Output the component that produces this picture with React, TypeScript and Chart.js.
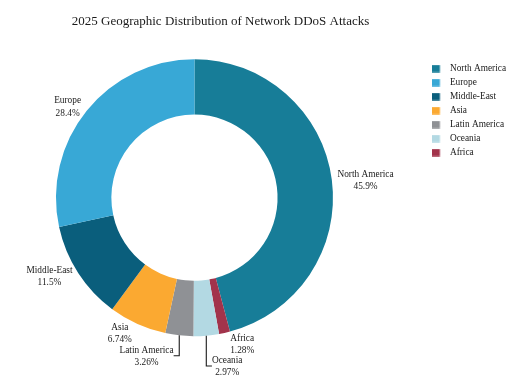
import React, { useEffect, useRef } from 'react';
import { Chart, registerables } from 'chart.js';

Chart.register(...registerables);

// ---- data ----
const categories = ['North America', 'Africa', 'Oceania', 'Latin America', 'Asia', 'Middle-East', 'Europe'];
const values = [45.9, 1.28, 2.97, 3.26, 6.74, 11.5, 28.4];
const colors = ['#177d98', '#a2334b', '#b3d9e3', '#8f9195', '#fba931', '#0a5e7c', '#38a8d6'];
const titleText = '2025 Geographic Distribution of Network DDoS Attacks';

const FONT = '"Liberation Serif", "Times New Roman", serif';
const TEXT = '#1a1a1a';
const LABEL_SIZE = 9.33;
const TITLE_SIZE = 13;
const SHIFT = 39; // canvas is shifted left inside the clipped frame
const CANVAS_W = 548;
const CANVAS_H = 379;

function pctText(v: number, total: number) {
  return Number(((v / total) * 100).toPrecision(3)).toString() + '%';
}

function makeSwatch(color: string) {
  const c = document.createElement('canvas');
  c.width = 13;
  c.height = 8;
  const g = c.getContext('2d')!;
  g.fillStyle = color;
  g.fillRect(0, 0.25, 7.5, 7.5);
  return c;
}

const titlePlugin = {
  id: 'customTitle',
  afterDraw(chart: any) {
    const ctx = chart.ctx;
    ctx.save();
    ctx.font = `${TITLE_SIZE}px ${FONT}`;
    ctx.fillStyle = TEXT;
    ctx.textAlign = 'center';
    ctx.textBaseline = 'alphabetic';
    ctx.fillText(titleText, 220.5 + SHIFT, 25);
    ctx.restore();
  },
};

const outsideLabels = {
  id: 'outsideLabels',
  afterDatasetsDraw(chart: any) {
    const ctx = chart.ctx;
    const meta = chart.getDatasetMeta(0);
    const data: number[] = chart.data.datasets[0].data;
    const total = data.reduce((a, b) => a + b, 0);
    ctx.save();
    ctx.font = `${LABEL_SIZE}px ${FONT}`;
    const asc = 0.891 * LABEL_SIZE;
    const desc = 0.216 * LABEL_SIZE;
    const lh = 1.3 * LABEL_SIZE;
    const bbH = asc + desc + lh;

    const pts = meta.data.map((arc: any, i: number) => {
      const p = arc.getProps(['x', 'y', 'startAngle', 'endAngle', 'outerRadius'], true);
      const mid = (p.startAngle + p.endAngle) / 2;
      const px = p.outerRadius * Math.cos(mid);
      const py = p.outerRadius * Math.sin(mid);
      const lines = [chart.data.labels[i], pctText(data[i], total)];
      const w = Math.max(...lines.map((l: string) => ctx.measureText(l).width));
      let dx = w / 2;
      let dy = bbH / 2;
      if (px < 0) dx = -dx;
      if (py < 0) dy = -dy;
      const tx = p.x + px + dx + (Math.abs(dy) * (dx > 0 ? 1 : -1)) / 2;
      const ty = p.y + py + dy / (1 + (px * px) / (py * py));
      return { cx: p.x, cy: p.y, px, py, tx, ty, w, extraY: 0, lines };
    });

    // push overlapping outside labels away from the equator
    for (const top of [true, false]) {
      for (const left of [true, false]) {
        const q = pts
          .filter((p: any) => (p.py < 0) === top && (p.px < 0) === left)
          .sort((a: any, b: any) => Math.abs(a.py) - Math.abs(b.py));
        let prev: any = null;
        for (const p of q) {
          if (prev) {
            if (!top) {
              const ne = prev.ty + prev.extraY + bbH / 2 - (p.ty - bbH / 2);
              if (ne > 0) p.extraY = ne;
            } else {
              const ne = prev.ty + prev.extraY - bbH / 2 - (p.ty + bbH / 2);
              if (ne < 0) p.extraY = ne;
            }
          }
          prev = p;
        }
      }
    }

    ctx.fillStyle = TEXT;
    ctx.strokeStyle = TEXT;
    ctx.textAlign = 'center';
    ctx.textBaseline = 'alphabetic';
    for (const p of pts) {
      const midY = p.ty + p.extraY;
      const topY = midY - bbH / 2;
      ctx.fillText(p.lines[0], p.tx, topY + asc);
      ctx.fillText(p.lines[1], p.tx, topY + asc + lh);
      if (p.extraY !== 0) {
        const sx = p.cx + p.px;
        const sy = p.cy + p.py;
        const finalX = (bbH / 4) * (p.px < 0 ? -1 : 1);
        ctx.lineWidth = 1.1;
        ctx.beginPath();
        ctx.moveTo(sx, sy);
        ctx.lineTo(sx, midY);
        ctx.lineTo(sx + finalX, midY);
        ctx.stroke();
      }
    }
    ctx.restore();
  },
};

export default function App() {
  const ref = useRef<HTMLCanvasElement | null>(null);

  useEffect(() => {
    if (!ref.current) return;
    const chart = new Chart(ref.current, {
      type: 'doughnut',
      data: {
        labels: categories,
        datasets: [
          {
            data: values,
            backgroundColor: colors,
            borderWidth: 0,
            hoverOffset: 0,
          },
        ],
      },
      options: {
        responsive: false,
        animation: false,
        cutout: '60%',
        layout: { padding: { left: 0, right: -7.1, top: 59.2, bottom: 42.8 } },
        plugins: {
          title: { display: false },
          tooltip: { enabled: false },
          legend: {
            display: true,
            position: 'right',
            align: 'start',
            labels: {
              usePointStyle: true,
              pointStyleWidth: 12.6,
              padding: 4.67,
              color: TEXT,
              font: { family: FONT, size: LABEL_SIZE },
              generateLabels: () =>
                categories.map((c, i) => ({
                  text: c,
                  fillStyle: colors[i],
                  strokeStyle: colors[i],
                  lineWidth: 0,
                  hidden: false,
                  index: i,
                  pointStyle: makeSwatch(colors[i]),
                  fontColor: TEXT,
                })),
              sort: (a: any, b: any) => values[b.index] - values[a.index],
            },
          },
        },
      } as any,
      plugins: [outsideLabels, titlePlugin],
    });
    return () => chart.destroy();
  }, []);

  return (
    <div
      style={{
        position: 'fixed',
        left: 0,
        top: 0,
        width: 509,
        height: 379,
        overflow: 'hidden',
        background: '#fff',
      }}
    >
      <canvas
        ref={ref}
        width={CANVAS_W}
        height={CANVAS_H}
        style={{ display: 'block', position: 'absolute', left: -SHIFT, top: 0, width: CANVAS_W, height: CANVAS_H }}
      />
    </div>
  );
}
